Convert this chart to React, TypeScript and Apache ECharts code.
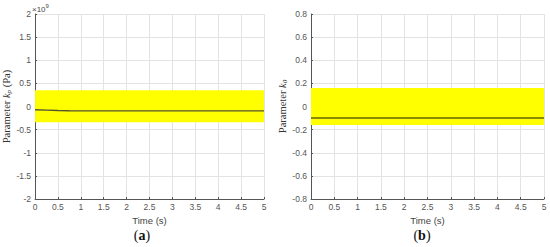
import React, { useEffect, useRef } from "react";
import * as echarts from "echarts";

const timeA = [0, 0.25, 0.5, 0.75, 1, 2, 3, 4, 4.2, 5];
const valuesA = [-0.07, -0.078, -0.086, -0.092, -0.094, -0.095, -0.095, -0.095, -0.095, -0.095];
const timeB = [0, 1, 2, 3, 4, 5];
const valuesB = [-0.1, -0.1, -0.1, -0.1, -0.1, -0.1];
const bandA = [-0.34, 0.35];
const bandB = [-0.16, 0.16];
const yRangeA = [-2, 2, 0.5];
const yRangeB = [-0.8, 0.8, 0.2];
const xRange = [0, 5, 0.5];

const sans = "Liberation Sans, Arial, sans-serif";
const serif = "Liberation Serif, Times New Roman, serif";

function fmt(v: number) {
  const r = Math.round(v * 100) / 100;
  return String(r);
}

export default function App() {
  const ref = useRef<HTMLDivElement>(null);
  useEffect(() => {
    const chart = echarts.init(ref.current!, undefined, { renderer: "svg" });
    const grids = [
      { left: 31, top: 14, width: 233, height: 185 },
      { left: 311, top: 14, width: 233, height: 185 },
    ];
    const mkX = (i: number) => ({
      type: "value",
      gridIndex: i,
      min: xRange[0],
      max: xRange[1],
      interval: xRange[2],
      name: "Time (s)",
      nameLocation: "middle",
      nameGap: 15,
      nameTextStyle: { fontFamily: sans, fontSize: 9.5, color: "#444" },
      axisLine: { show: true, onZero: false, lineStyle: { color: "#555", width: 1 } },
      axisTick: { show: true, inside: true, length: 2, lineStyle: { color: "#555" } },
      axisLabel: { fontFamily: sans, fontSize: 8.5, color: "#555", margin: 3, formatter: fmt },
      splitLine: { show: true, lineStyle: { color: "#e3e3e3", width: 1 } },
    });
    const mkY = (i: number, rng: number[], name: string) => ({
      type: "value",
      gridIndex: i,
      min: rng[0],
      max: rng[1],
      interval: rng[2],
      name,
      nameLocation: "middle",
      nameGap: 19,
      nameRotate: 90,
      nameTextStyle: {
        fontFamily: serif,
        fontSize: 10.5,
        color: "#333",
        rich: {
          a: { fontFamily: serif, fontSize: 10.5, color: "#333" },
          i: { fontFamily: serif, fontSize: 10.5, fontStyle: "italic", color: "#333" },
          s: { fontFamily: serif, fontSize: 7, fontStyle: "italic", color: "#333", padding: [5, 0, 0, 0] },
        },
      },
      axisLine: { show: true, onZero: false, lineStyle: { color: "#555", width: 1 } },
      axisTick: { show: true, inside: true, length: 2, lineStyle: { color: "#555" } },
      axisLabel: { fontFamily: sans, fontSize: 8.5, color: "#555", margin: 4, formatter: fmt },
      splitLine: { show: true, lineStyle: { color: "#e3e3e3", width: 1 } },
    });
    chart.setOption({
      animation: false,
      backgroundColor: "#fff",
      grid: grids,
      xAxis: [mkX(0), mkX(1)],
      yAxis: [
        mkY(0, yRangeA, "{a|Parameter }{i|k}{s|p}{a| (Pa)}"),
        mkY(1, yRangeB, "{a|Parameter }{i|k}{s|0}"),
      ],
      series: [
        {
          type: "line",
          xAxisIndex: 0,
          yAxisIndex: 0,
          data: timeA.map((t, i) => [t, valuesA[i]]),
          symbol: "none",
          lineStyle: { color: "#555530", width: 1.3 },
          z: 3,
          markArea: {
            silent: true,
            itemStyle: { color: "#ffff00", opacity: 1 },
            data: [[{ coord: [xRange[0], bandA[1]] }, { coord: [xRange[1], bandA[0]] }]],
          },
        },
        {
          type: "line",
          xAxisIndex: 1,
          yAxisIndex: 1,
          data: timeB.map((t, i) => [t, valuesB[i]]),
          symbol: "none",
          lineStyle: { color: "#8c8a00", width: 2 },
          z: 3,
          markArea: {
            silent: true,
            itemStyle: { color: "#ffff00", opacity: 1 },
            data: [[{ coord: [xRange[0], bandB[1]] }, { coord: [xRange[1], bandB[0]] }]],
          },
        },
      ],
      graphic: [
        {
          type: "text",
          left: 32,
          top: 3,
          style: {
            text: "{a|×10}{s|9}",
            rich: {
              a: { fontFamily: sans, fontSize: 8, fill: "#444", padding: [3, 0, 0, 0] },
              s: { fontFamily: sans, fontSize: 6, fill: "#444", padding: [0, 0, 3, 0] },
            },
          },
        },
        {
          type: "text",
          x: 142,
          y: 235,
          style: {
            text: "({b|a})",
            font: "14px " + serif,
            fill: "#111",
            align: "center",
            verticalAlign: "middle",
            rich: { b: { fontFamily: serif, fontSize: 14, fontWeight: "bold", fill: "#111" } },
          },
        },
        {
          type: "text",
          x: 422,
          y: 235,
          style: {
            text: "({b|b})",
            font: "14px " + serif,
            fill: "#111",
            align: "center",
            verticalAlign: "middle",
            rich: { b: { fontFamily: serif, fontSize: 14, fontWeight: "bold", fill: "#111" } },
          },
        },
      ],
    });
    return () => chart.dispose();
  }, []);
  return (
    <div
      ref={ref}
      style={{ position: "absolute", left: 0, top: 0, width: 550, height: 247 }}
    />
  );
}
